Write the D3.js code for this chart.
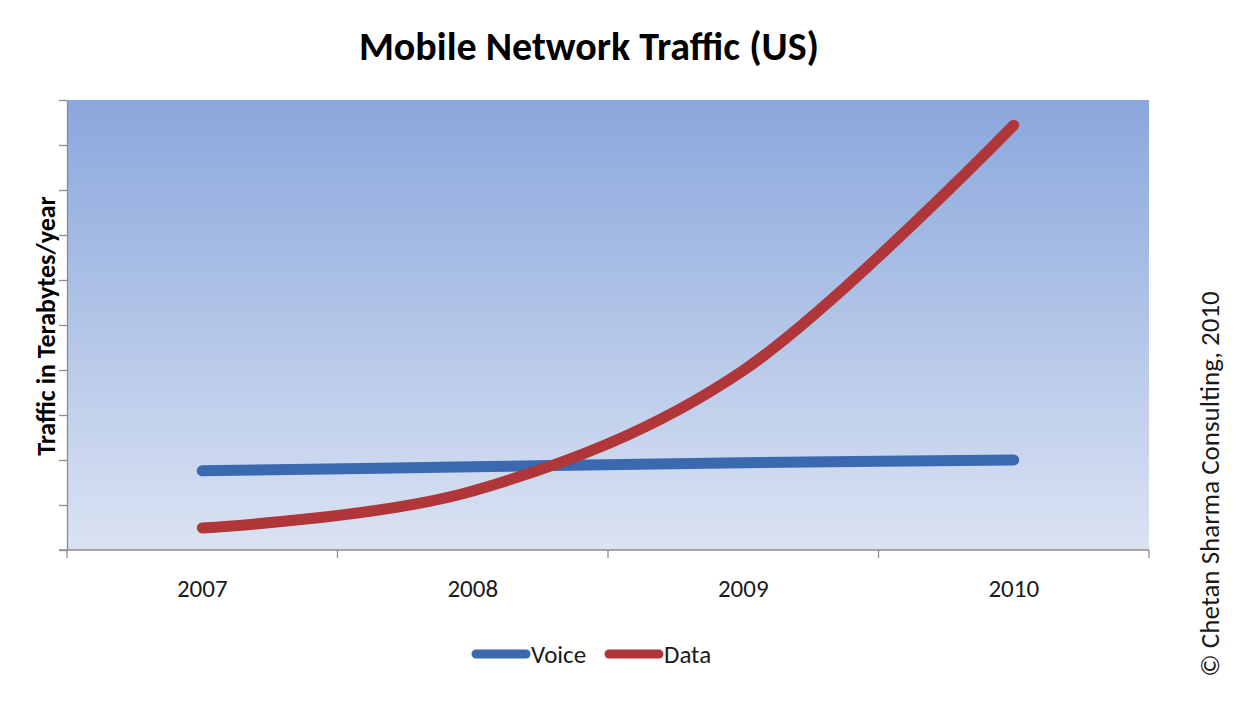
<!DOCTYPE html>
<html>
<head>
<meta charset="utf-8">
<script src="https://cdn.jsdelivr.net/npm/d3@7"></script>
<style>
  body { margin: 0; background: #fff; }
  text { font-family: Carlito, Lato, "Open Sans", sans-serif; }
</style>
</head>
<body>
<svg id="chart" width="1237" height="702"></svg>
<script>
// chart data
var years = ["2007", "2008", "2009", "2010"];
var voice = [1.76, 1.85, 1.94, 2.0];
var data = [0.49, 1.31, 3.99, 9.44];
var seriesNames = ["Voice", "Data"];
var seriesColors = ["#3a69b0", "#b0363a"];

var svg = d3.select("#chart");
var plotLeft = 67, plotRight = 1149, plotTop = 100, plotBottom = 550;

var x = d3.scaleBand().domain(years).range([plotLeft, plotRight]);
var y = d3.scaleLinear().domain([0, 10]).range([plotBottom, plotTop]);

// background gradient
var grad = svg.append("defs").append("linearGradient")
  .attr("id", "bg").attr("x1", 0).attr("y1", 0).attr("x2", 0).attr("y2", 1);
grad.append("stop").attr("offset", "0%").attr("stop-color", "#8aa7dc");
grad.append("stop").attr("offset", "100%").attr("stop-color", "#dbe3f3");

svg.append("rect")
  .attr("x", plotLeft).attr("y", plotTop)
  .attr("width", plotRight - plotLeft).attr("height", plotBottom - plotTop)
  .attr("fill", "url(#bg)");

// y axis, ticks only
svg.append("g")
  .attr("transform", "translate(" + plotLeft + ",0)")
  .call(d3.axisLeft(y).ticks(10).tickSize(8).tickSizeOuter(0).tickFormat(""))
  .call(function(g) {
    g.selectAll("path,line").attr("stroke", "#8c8c8c").attr("stroke-width", 1.3);
  });

// x axis with band edge ticks
var xg = svg.append("g").attr("transform", "translate(0," + plotBottom + ")");
xg.append("line").attr("x1", plotLeft - 8).attr("x2", plotRight)
  .attr("stroke", "#8c8c8c").attr("stroke-width", 1.3);
var edges = years.map(function(d) { return x(d); }).concat([plotRight]);
xg.selectAll(".tk").data(edges).enter().append("line")
  .attr("x1", function(d) { return d; }).attr("x2", function(d) { return d; })
  .attr("y1", 0).attr("y2", 8)
  .attr("stroke", "#8c8c8c").attr("stroke-width", 1.3);
xg.selectAll(".lbl").data(years).enter().append("text")
  .attr("x", function(d) { return x(d) + x.bandwidth() / 2; })
  .attr("y", 47)
  .attr("text-anchor", "middle")
  .attr("font-size", 25)
  .attr("fill", "#1a1a1a")
  .text(function(d) { return d; });

// lines
var line = d3.line()
  .x(function(d, i) { return x(years[i]) + x.bandwidth() / 2; })
  .y(function(d) { return y(d); })
  .curve(d3.curveCatmullRom.alpha(0));

[voice, data].forEach(function(s, i) {
  svg.append("path")
    .datum(s)
    .attr("d", line)
    .attr("fill", "none")
    .attr("stroke", seriesColors[i])
    .attr("stroke-width", 11)
    .attr("stroke-linecap", "round")
    .attr("stroke-linejoin", "round");
});

// title
svg.append("text")
  .attr("x", 589).attr("y", 60)
  .attr("text-anchor", "middle")
  .attr("font-size", 40)
  .attr("font-weight", "bold")
  .attr("fill", "#000")
  .text("Mobile Network Traffic (US)");

// y axis title
svg.append("text")
  .attr("transform", "translate(55,326) rotate(-90)")
  .attr("text-anchor", "middle")
  .attr("font-size", 26)
  .attr("font-weight", "bold")
  .attr("fill", "#000")
  .text("Traffic in Terabytes/year");

// legend
var legend = svg.append("g");
var lx = [476, 609];
seriesNames.forEach(function(n, i) {
  legend.append("line")
    .attr("x1", lx[i]).attr("x2", lx[i] + 50)
    .attr("y1", 654).attr("y2", 654)
    .attr("stroke", seriesColors[i]).attr("stroke-width", 9)
    .attr("stroke-linecap", "round");
  legend.append("text")
    .attr("x", lx[i] + 55).attr("y", 663)
    .attr("font-size", 25)
    .attr("fill", "#1a1a1a")
    .text(n);
});

// copyright note
svg.append("text")
  .attr("transform", "translate(1219,484) rotate(-90)")
  .attr("text-anchor", "middle")
  .attr("font-size", 27)
  .attr("fill", "#1a1a1a")
  .text("\u00a9 Chetan Sharma Consulting, 2010");
</script>
</body>
</html>
